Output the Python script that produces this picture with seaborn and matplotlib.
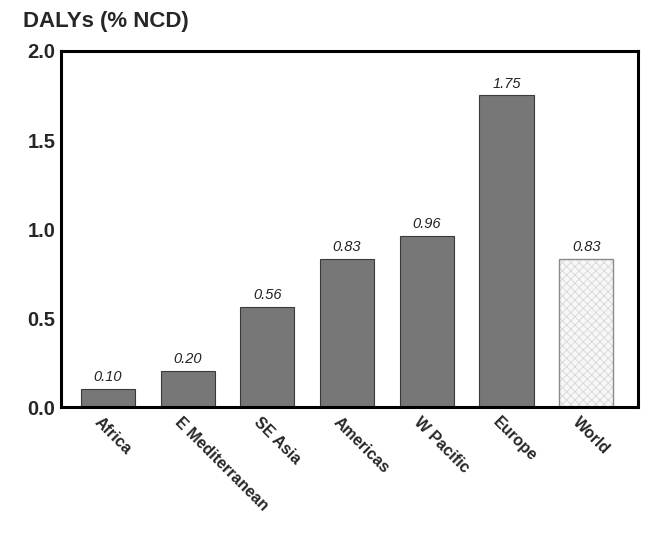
import matplotlib
matplotlib.use("Agg")
import matplotlib.pyplot as plt
from matplotlib.patches import Rectangle
from matplotlib.transforms import ScaledTranslation
import seaborn as sns
import pandas as pd

categories = ["Africa", "E Mediterranean", "SE Asia", "Americas", "W Pacific", "Europe", "World"]
values = [0.10, 0.20, 0.56, 0.83, 0.96, 1.75, 0.83]
value_labels = ["0.10", "0.20", "0.56", "0.83", "0.96", "1.75", "0.83"]
yticks = [0.0, 0.5, 1.0, 1.5, 2.0]
ytick_labels = ["0.0", "0.5", "1.0", "1.5", "2.0"]

sns.set_theme(style="white")
plt.rcParams['font.family'] = ['Liberation Sans', 'DejaVu Sans']
plt.rcParams['hatch.linewidth'] = 0.6

df = pd.DataFrame({"region": categories, "value": values})

fig = plt.figure(figsize=(6.46, 5.34), dpi=100)
ax = fig.add_axes([0.0944, 0.2378, 0.8932, 0.6667])

sns.barplot(data=df, x="region", y="value", ax=ax, color="#777777",
            width=0.68, saturation=1, edgecolor="#3a3a3a", linewidth=0.8)

patches = list(ax.patches)
world = patches[-1]
world.set_facecolor("#f7f7f7")
world.set_edgecolor("#d6d6d6")
world.set_hatch("xxxx")
world.set_linewidth(0)
ax.add_patch(Rectangle((world.get_x(), world.get_y()), world.get_width(), world.get_height(),
                       fill=False, edgecolor="#8a8a8a", linewidth=1.0, zorder=world.get_zorder() + 0.1))

for p, lab in zip(patches, value_labels):
    ax.text(p.get_x() + p.get_width() / 2, p.get_height() + 0.028, lab,
            ha="center", va="bottom", fontsize=10.5, style="italic", color="#222222")

ax.set_ylim(0, 2.0)
ax.set_xlim(-0.59, 6.65)
ax.set_yticks(yticks)
ax.set_yticklabels(ytick_labels, fontsize=14.5, fontweight="bold")
ax.set_xticks(range(len(categories)))
ax.set_xticklabels(categories, rotation=-45, ha="left", va="center", rotation_mode="anchor",
                   fontsize=11.5, fontweight="bold")
ax.tick_params(axis="both", length=0, pad=4)
ax.tick_params(axis="x", pad=14)
offset = ScaledTranslation(-0.11, 0.07, fig.dpi_scale_trans)
for lbl in ax.get_xticklabels():
    lbl.set_transform(lbl.get_transform() + offset)
ax.set_xlabel("")
ax.set_ylabel("")
for s in ax.spines.values():
    s.set_linewidth(2.2)
    s.set_color("black")
    s.set_visible(True)

fig.text(0.036, 0.96, "DALYs (% NCD)", fontsize=16, fontweight="bold", ha="left", va="center")

fig.savefig("out.png", dpi=100)
